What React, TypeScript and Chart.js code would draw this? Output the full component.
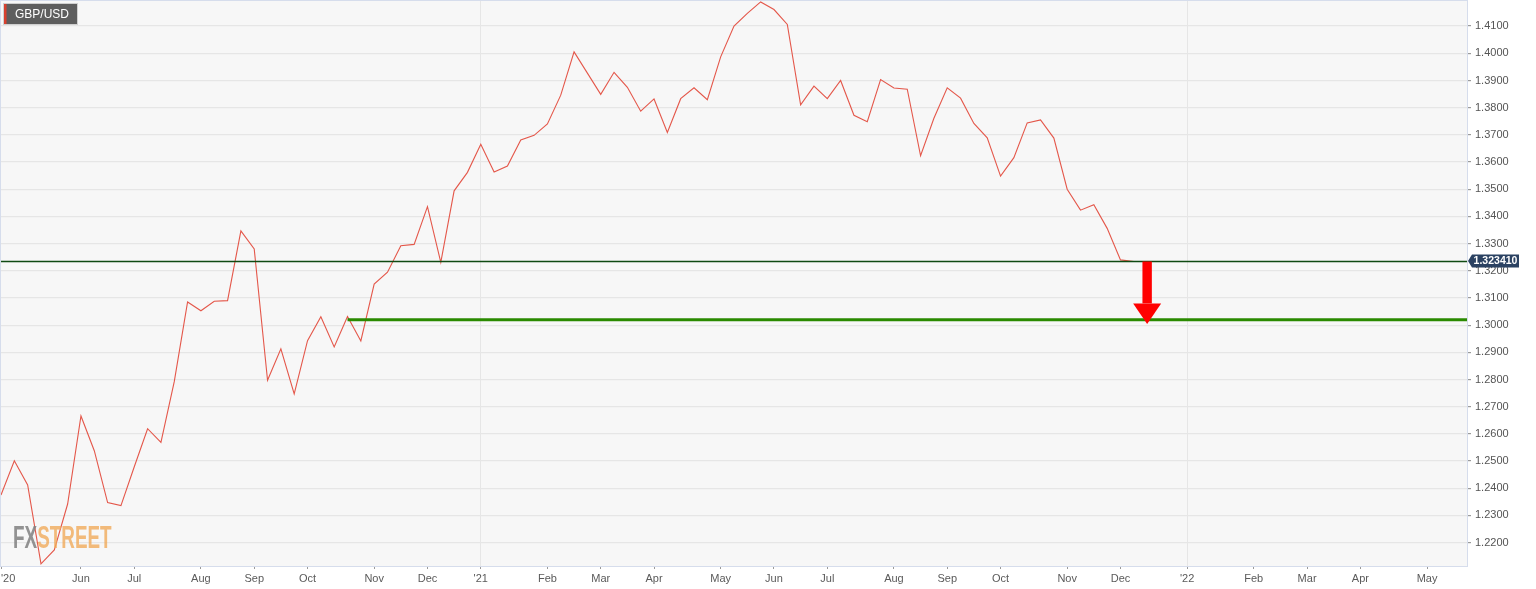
import React, { useEffect, useRef } from 'react';
import { Chart, registerables } from 'chart.js';

Chart.register(...registerables);

// Weekly GBP/USD closes (week index 0 = first visible week, May 2020)
const gbpusd = [
  1.2375, 1.2501, 1.2412, 1.2122, 1.2173, 1.2342, 1.2666, 1.2538, 1.2347, 1.2336,
  1.2479, 1.2619, 1.2569, 1.2792, 1.3085, 1.3053, 1.3088, 1.3090, 1.3347, 1.3280,
  1.2797, 1.2913, 1.2747, 1.2943, 1.3031, 1.2920, 1.3032, 1.2942, 1.3151, 1.3195,
  1.3292, 1.3297, 1.3436, 1.3231, 1.3494, 1.3562, 1.3665, 1.3563, 1.3585, 1.3681,
  1.3698, 1.3740, 1.3846, 1.4005, 1.3927, 1.3849, 1.3930, 1.3875, 1.3787, 1.3832,
  1.3709, 1.3833, 1.3873, 1.3829, 1.3987, 1.4100, 1.4147, 1.4189, 1.4161, 1.4106,
  1.3810, 1.3879, 1.3833, 1.3900, 1.3772, 1.3748, 1.3903, 1.3872, 1.3868, 1.3623,
  1.3761, 1.3873, 1.3835, 1.3742, 1.3689, 1.3548, 1.3616, 1.3744, 1.3755, 1.3688,
  1.3500, 1.3423, 1.3443, 1.3356, 1.3240, 1.32341,
];

const monthTickIndex = [0, 6, 10, 15, 19, 23, 28, 32, 36, 41, 45, 49, 54, 58, 62, 67, 71, 75, 80, 84, 89, 94, 98, 102, 107];
const monthTickLabels = ["'20", 'Jun', 'Jul', 'Aug', 'Sep', 'Oct', 'Nov', 'Dec', "'21", 'Feb', 'Mar', 'Apr', 'May', 'Jun', 'Jul', 'Aug', 'Sep', 'Oct', 'Nov', 'Dec', "'22", 'Feb', 'Mar', 'Apr', 'May'];
const yearTickIndex = [36, 89];

const yTicks = [1.22, 1.23, 1.24, 1.25, 1.26, 1.27, 1.28, 1.29, 1.30, 1.31, 1.32, 1.33, 1.34, 1.35, 1.36, 1.37, 1.38, 1.39, 1.40, 1.41];

const xMin = 0;
const xMax = 110;
const yMin = 1.2114;
const yMax = 1.4196;

const symbol = 'GBP/USD';
const currentPrice = 1.32341;
const supportLevel = 1.302;
const supportStartIndex = 26;
const arrowIndex = 86;
const arrowTarget = 1.3004;
const arrowHeadBase = 1.308;

const FONT = "'Liberation Sans', Arial, sans-serif";

const decorPlugin = {
  id: 'decor',
  beforeDraw(chart: any) {
    const { ctx, chartArea: a } = chart;
    ctx.save();
    ctx.fillStyle = '#ffffff';
    ctx.fillRect(0, 0, chart.width, chart.height);
    ctx.fillStyle = '#f7f7f7';
    ctx.fillRect(a.left, a.top, a.right - a.left, a.bottom - a.top);
    ctx.restore();
  },
  afterDatasetsDraw(chart: any) {
    const { ctx, chartArea: a, scales } = chart;
    const xs = scales.x;
    const ys = scales.y;
    ctx.save();
    // plot frame
    ctx.strokeStyle = '#d6ddec';
    ctx.lineWidth = 1;
    ctx.strokeRect(a.left - 0.5, a.top + 0.5, a.right - a.left + 1, a.bottom - a.top);

    // red arrow
    const ax = xs.getPixelForValue(arrowIndex);
    const y0 = ys.getPixelForValue(currentPrice);
    const yh = ys.getPixelForValue(arrowHeadBase);
    const yt = ys.getPixelForValue(arrowTarget);
    ctx.fillStyle = '#ff0000';
    ctx.fillRect(ax - 4.7, y0, 9.4, yh - y0);
    ctx.beginPath();
    ctx.moveTo(ax - 14, yh);
    ctx.lineTo(ax + 14, yh);
    ctx.lineTo(ax, yt);
    ctx.closePath();
    ctx.fill();

    // FXStreet watermark
    ctx.save();
    ctx.translate(a.left + 12, a.bottom - 18);
    ctx.scale(0.59, 1);
    ctx.font = `bold 32px ${FONT}`;
    ctx.textBaseline = 'alphabetic';
    ctx.fillStyle = 'rgba(128,128,128,0.85)';
    ctx.fillText('FX', 0, 0);
    const w = ctx.measureText('FX').width;
    ctx.fillStyle = 'rgba(240,170,90,0.8)';
    ctx.fillText('STREET', w, 0);
    ctx.restore();

    // symbol badge
    ctx.fillStyle = '#5e5e5e';
    ctx.fillRect(4, 4, 73, 20);
    ctx.strokeStyle = '#d0d0d0';
    ctx.strokeRect(3.5, 3.5, 74, 21);
    ctx.fillStyle = '#d9402e';
    ctx.fillRect(4, 4, 2.5, 20);
    ctx.fillStyle = '#ffffff';
    ctx.font = `12px ${FONT}`;
    ctx.textBaseline = 'middle';
    ctx.textAlign = 'left';
    ctx.fillText(symbol, 15, 14.5);
    ctx.restore();
  },
  afterDraw(chart: any) {
    const { ctx, chartArea: a, scales } = chart;
    const y = Math.round(scales.y.getPixelForValue(currentPrice));
    const r = a.right;
    ctx.save();
    ctx.fillStyle = '#2b4262';
    ctx.beginPath();
    ctx.moveTo(r + 1, y);
    ctx.lineTo(r + 5, y - 6.5);
    ctx.lineTo(r + 52, y - 6.5);
    ctx.lineTo(r + 52, y + 6.5);
    ctx.lineTo(r + 5, y + 6.5);
    ctx.closePath();
    ctx.fill();
    ctx.fillStyle = '#ffffff';
    ctx.font = `bold 10.5px ${FONT}`;
    ctx.textAlign = 'center';
    ctx.textBaseline = 'middle';
    ctx.fillText(currentPrice.toFixed(6), r + 28.5, y + 0.5);
    ctx.restore();
  },
};

export default function App() {
  const ref = useRef<HTMLCanvasElement>(null);

  useEffect(() => {
    if (!ref.current) return;
    const priceData = gbpusd.map((v, i) => ({ x: i, y: v }));
    const chart = new Chart(ref.current, {
      type: 'line',
      data: {
        datasets: [
          {
            label: symbol,
            data: priceData,
            borderColor: '#e4574a',
            borderWidth: 1.1,
            pointRadius: 0,
            tension: 0,
            order: 3,
          },
          {
            label: 'current',
            data: [
              { x: xMin, y: currentPrice },
              { x: xMax, y: currentPrice },
            ],
            borderColor: '#0f4a12',
            borderWidth: 1.6,
            pointRadius: 0,
            order: 2,
          },
          {
            label: 'support',
            data: [
              { x: supportStartIndex, y: supportLevel },
              { x: xMax, y: supportLevel },
            ],
            borderColor: '#2a8a00',
            borderWidth: 3,
            pointRadius: 0,
            order: 1,
          },
        ],
      },
      options: {
        responsive: false,
        animation: false,
        layout: { padding: { left: 1, top: 0, right: 0, bottom: 0 } },
        plugins: {
          legend: { display: false },
          tooltip: { enabled: false },
        },
        scales: {
          x: {
            type: 'linear',
            min: xMin,
            max: xMax,
            afterBuildTicks: (scale: any) => {
              scale.ticks = [...monthTickIndex, xMax].map((v) => ({ value: v }));
            },
            afterFit: (scale: any) => {
              scale.height = 23;
              scale.paddingLeft = 0;
              scale.paddingRight = 0;
            },
            border: { color: '#d6ddec' },
            grid: {
              color: (c: any) => (c.tick && yearTickIndex.includes(c.tick.value) ? '#e6e6e6' : 'rgba(0,0,0,0)'),
              tickColor: (c: any) => (c.tick && c.tick.value === xMax ? 'rgba(0,0,0,0)' : '#9a9a9a'),
              tickLength: 3,
            },
            ticks: {
              autoSkip: false,
              maxRotation: 0,
              align: 'inner',
              padding: 3,
              color: '#5a5a5a',
              font: { family: FONT, size: 11 },
              callback: (v: any) => {
                const k = monthTickIndex.indexOf(v);
                return k >= 0 ? monthTickLabels[k] : '';
              },
            },
          },
          y: {
            type: 'linear',
            position: 'right',
            min: yMin,
            max: yMax,
            afterBuildTicks: (scale: any) => {
              scale.ticks = yTicks.map((v) => ({ value: v }));
            },
            afterFit: (scale: any) => {
              scale.width = 69;
              scale.paddingTop = 0;
              scale.paddingBottom = 0;
            },
            border: { color: '#d6ddec' },
            grid: {
              color: '#e6e6e6',
              lineWidth: 1.2,
              tickColor: '#9a9a9a',
              tickLength: 4,
            },
            ticks: {
              padding: 4,
              color: '#555555',
              font: { family: FONT, size: 11 },
              callback: (v: any) => Number(v).toFixed(4),
            },
          },
        },
      },
      plugins: [decorPlugin],
    });
    return () => chart.destroy();
  }, []);

  return (
    <div style={{ position: 'fixed', left: 0, top: 0, width: 1536, height: 589, background: '#fff' }}>
      <canvas ref={ref} width={1536} height={589} style={{ width: 1536, height: 589, display: 'block' }} />
    </div>
  );
}
